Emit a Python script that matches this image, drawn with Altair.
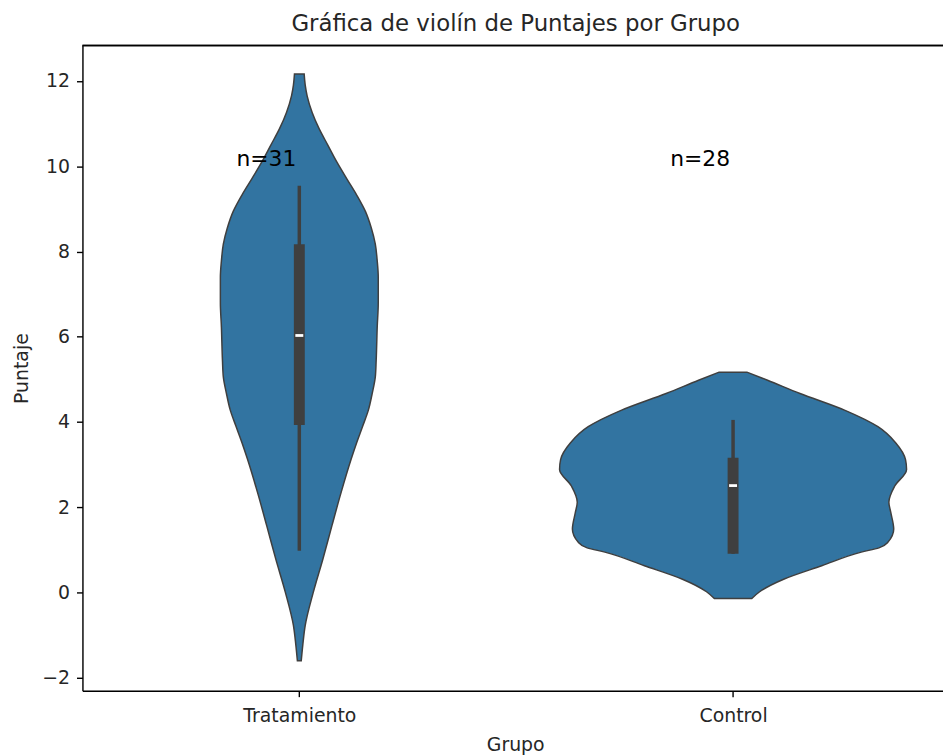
import altair as alt
import pandas as pd

# ---- data ----
groups = ["Tratamiento", "Control"]
counts = [31, 28]

# violin outlines: score levels and relative density (1 = widest violin)
trat_y = [12.16, 11.9, 11.65, 11.26, 10.88, 10.49, 10.10, 9.71, 9.33, 8.94, 8.55, 8.17,
          7.78, 7.39, 6.8, 6.23, 5.45, 5.06, 4.67, 4.28, 3.89, 3.51, 3.12, 2.35, 1.57,
          0.79, 0.0, -0.77, -1.23, -1.6]
trat_d = [0.028, 0.034, 0.045, 0.074, 0.114, 0.165, 0.216, 0.273, 0.330, 0.381, 0.415,
          0.438, 0.449, 0.455, 0.455, 0.449, 0.443, 0.438, 0.420, 0.398, 0.364, 0.330,
          0.298, 0.241, 0.188, 0.136, 0.080, 0.034, 0.020, 0.011]
ctrl_y = [5.17, 4.98, 4.67, 4.28, 3.89, 3.51, 3.12, 2.89, 2.5, 2.12, 1.88, 1.49, 1.18,
          1.05, 0.95, 0.63, 0.32, 0.02, -0.14]
ctrl_d = [0.080, 0.199, 0.386, 0.642, 0.835, 0.938, 0.994, 1.0, 0.932, 0.898, 0.909,
          0.926, 0.892, 0.841, 0.739, 0.511, 0.295, 0.153, 0.108]

# inner box statistics
whisk_lo = [0.98, 0.91]
q1 = [3.93, 0.91]
median = [6.03, 2.51]
q3 = [8.17, 3.16]
whisk_hi = [9.54, 4.05]

label_y = [10, 10]

HALF = 0.4  # half of seaborn's default violin width

rows = []
for gi, (ys, ds) in enumerate([(trat_y, trat_d), (ctrl_y, ctrl_d)]):
    for y, d in zip(ys, ds):
        rows.append({"g": groups[gi], "y": y, "lo": gi - d * HALF, "hi": gi + d * HALF})
violin = pd.DataFrame(rows)

stats = pd.DataFrame({"pos": [0, 1], "g": groups, "wlo": whisk_lo, "whi": whisk_hi,
                      "q1": q1, "q3": q3, "med": median,
                      "lab": [f"n={c}" for c in counts], "ly": label_y})

W, H = 867, 650
xscale = alt.Scale(domain=[-0.5, 1.484], nice=False, zero=False)
yscale = alt.Scale(domain=[-2.30, 12.83], nice=False, zero=False)

label_expr = "datum.value == 0 ? 'Tratamiento' : (datum.value == 1 ? 'Control' : '')"
TXT = "#262626"
FS = 19

xax = alt.Axis(values=[0, 1], labelExpr=label_expr, title="Grupo", grid=False,
               domainColor="black", domainWidth=1.4, tickColor="black", tickWidth=1.4,
               tickSize=6, labelFont="DejaVu Sans", labelFontSize=FS, labelColor=TXT,
               labelPadding=10, titleFont="DejaVu Sans", titleFontSize=FS,
               titleFontWeight="normal", titleColor=TXT, titleX=436, titleY=54,
               titleBaseline="middle")
yax = alt.Axis(values=list(range(-2, 13, 2)), title="Puntaje", grid=False,
               domainColor="black", domainWidth=1.4, tickColor="black", tickWidth=1.4,
               tickSize=6, labelFont="DejaVu Sans", labelFontSize=FS, labelColor=TXT,
               labelPadding=7, titleFont="DejaVu Sans", titleFontSize=FS,
               titleFontWeight="normal", titleColor=TXT, titleX=-61, titleY=325,
               titleAlign="center", titleBaseline="middle")

violins = alt.Chart(violin).mark_area(
    orient="horizontal", interpolate="monotone", color="#3274a1",
    stroke="#3f3f3f", strokeWidth=1.5, fillOpacity=1
).encode(
    y=alt.Y("y:Q", scale=yscale, axis=yax),
    x=alt.X("lo:Q", scale=xscale, axis=xax),
    x2="hi:Q",
    detail="g:N",
)

whisk = alt.Chart(stats).mark_rule(color="#3f3f3f", strokeWidth=3.5).encode(
    x=alt.X("pos:Q", scale=xscale), y=alt.Y("wlo:Q", scale=yscale), y2="whi:Q")
box = alt.Chart(stats).mark_rule(color="#3f3f3f", strokeWidth=11).encode(
    x=alt.X("pos:Q", scale=xscale), y=alt.Y("q1:Q", scale=yscale), y2="q3:Q")
med = alt.Chart(stats).mark_point(
    shape="M-1,-0.35L1,-0.35L1,0.35L-1,0.35Z", filled=True, color="white",
    size=64, opacity=1, strokeWidth=0
).encode(x=alt.X("pos:Q", scale=xscale), y=alt.Y("med:Q", scale=yscale))

labels = alt.Chart(stats).mark_text(
    align="right", baseline="alphabetic", font="DejaVu Sans", fontSize=22,
    color="black", dx=-3
).encode(x=alt.X("pos:Q", scale=xscale), y=alt.Y("ly:Q", scale=yscale), text="lab:N")

top_border = alt.Chart(stats).mark_rule(color="black", strokeWidth=1.4).encode(
    x=alt.value(0), x2=alt.value(W), y=alt.value(0))

chart = alt.layer(violins, whisk, box, med, labels, top_border).properties(
    width=W, height=H,
    autosize=alt.AutoSizeParams(type="none"),
    padding={"left": 75, "top": 35, "right": 0, "bottom": 63},
    title=alt.Title("Gráfica de violín de Puntajes por Grupo", font="DejaVu Sans",
                    fontSize=23, fontWeight="normal", color=TXT, anchor="middle",
                    baseline="alphabetic", offset=11, dx=3, dy=20),
).configure_view(stroke=None).configure(background="white")

chart.save("out.html", embed_options={"renderer": "svg", "actions": False})
